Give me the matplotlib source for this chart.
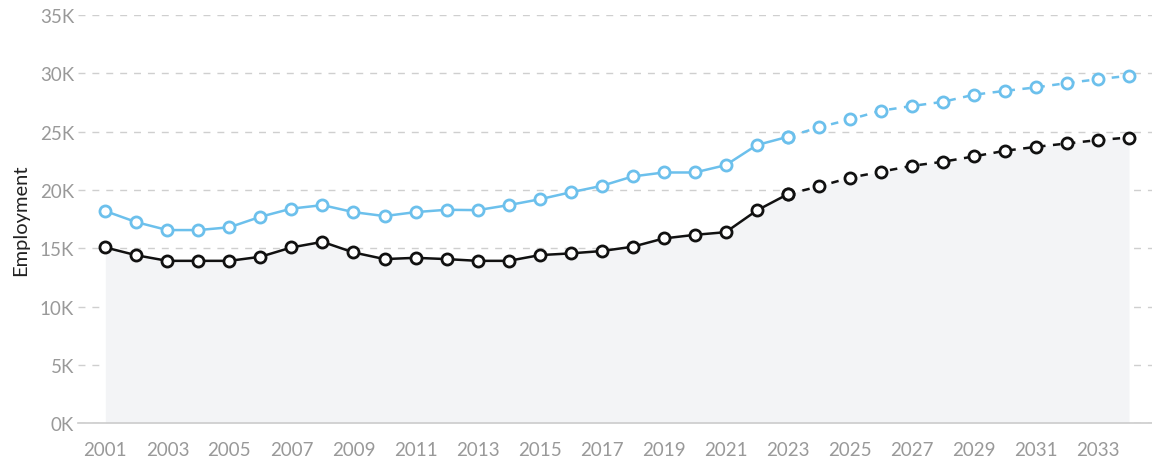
import numpy as np
import matplotlib.pyplot as plt

years = list(range(2001, 2035))
last_actual = 2023

# regional employment (black) and comparison series (blue), thousands
black_k = [15.07, 14.40, 13.92, 13.92, 13.92, 14.27, 15.07, 15.55, 14.64, 14.07,
           14.18, 14.07, 13.92, 13.92, 14.41, 14.56, 14.76, 15.13, 15.84, 16.15,
           16.38, 18.24, 19.64, 20.30, 21.05, 21.56, 22.07, 22.42, 22.88, 23.36,
           23.70, 23.99, 24.28, 24.50]
blue_k = [18.19, 17.24, 16.56, 16.56, 16.80, 17.70, 18.40, 18.70, 18.10, 17.76,
          18.10, 18.30, 18.27, 18.70, 19.20, 19.80, 20.35, 21.16, 21.50, 21.50,
          22.13, 23.85, 24.56, 25.37, 26.05, 26.80, 27.20, 27.56, 28.17, 28.50,
          28.80, 29.17, 29.50, 29.80]

yticks = [0, 5000, 10000, 15000, 20000, 25000, 30000, 35000]
ytick_labels = ['0K', '5K', '10K', '15K', '20K', '25K', '30K', '35K']
xticks = list(range(2001, 2035, 2))

plt.rcParams['font.family'] = ['Lato', 'DejaVu Sans']

x = np.array(years)
black = np.array(black_k) * 1000
blue = np.array(blue_k) * 1000
hist = x <= last_actual
proj = x >= last_actual

fig = plt.figure(figsize=(11.52, 4.6), dpi=100)
ax = fig.add_axes([0.068, 0.078, 0.932, 0.887])

ax.fill_between(x, 0, black, color='#f3f4f6', zorder=1, lw=0)

for y, col in [(blue, '#6cc0ec'), (black, '#111111')]:
    ax.plot(x[hist], y[hist], color=col, lw=1.8, marker='o', ms=8,
            mfc='white', mec=col, mew=2, zorder=3)
    ax.plot(x[proj], y[proj], color=col, lw=1.8, ls=(0, (3, 3)), marker='o', ms=8,
            mfc='white', mec=col, mew=2, zorder=3)

ax.set_ylim(0, 35000)
ax.set_xlim(2000.13, 2034.74)
ax.set_yticks(yticks)
ax.set_yticklabels(ytick_labels)
ax.set_xticks(xticks)
ax.yaxis.grid(True, color='#cfcfcf', ls=(0, (5, 5)), lw=1)
ax.set_axisbelow(True)
for s in ['top', 'right', 'left']:
    ax.spines[s].set_visible(False)
ax.spines['bottom'].set_color('#cccccc')
ax.spines['bottom'].set_linewidth(1.2)
ax.tick_params(axis='both', length=0, labelsize=13.5, labelcolor='#999999')
ax.tick_params(axis='x', pad=13)
ax.tick_params(axis='y', pad=3)
ax.set_ylabel('Employment', fontsize=14.5, color='#222222', labelpad=8)

fig.savefig('out.png', dpi=100)
